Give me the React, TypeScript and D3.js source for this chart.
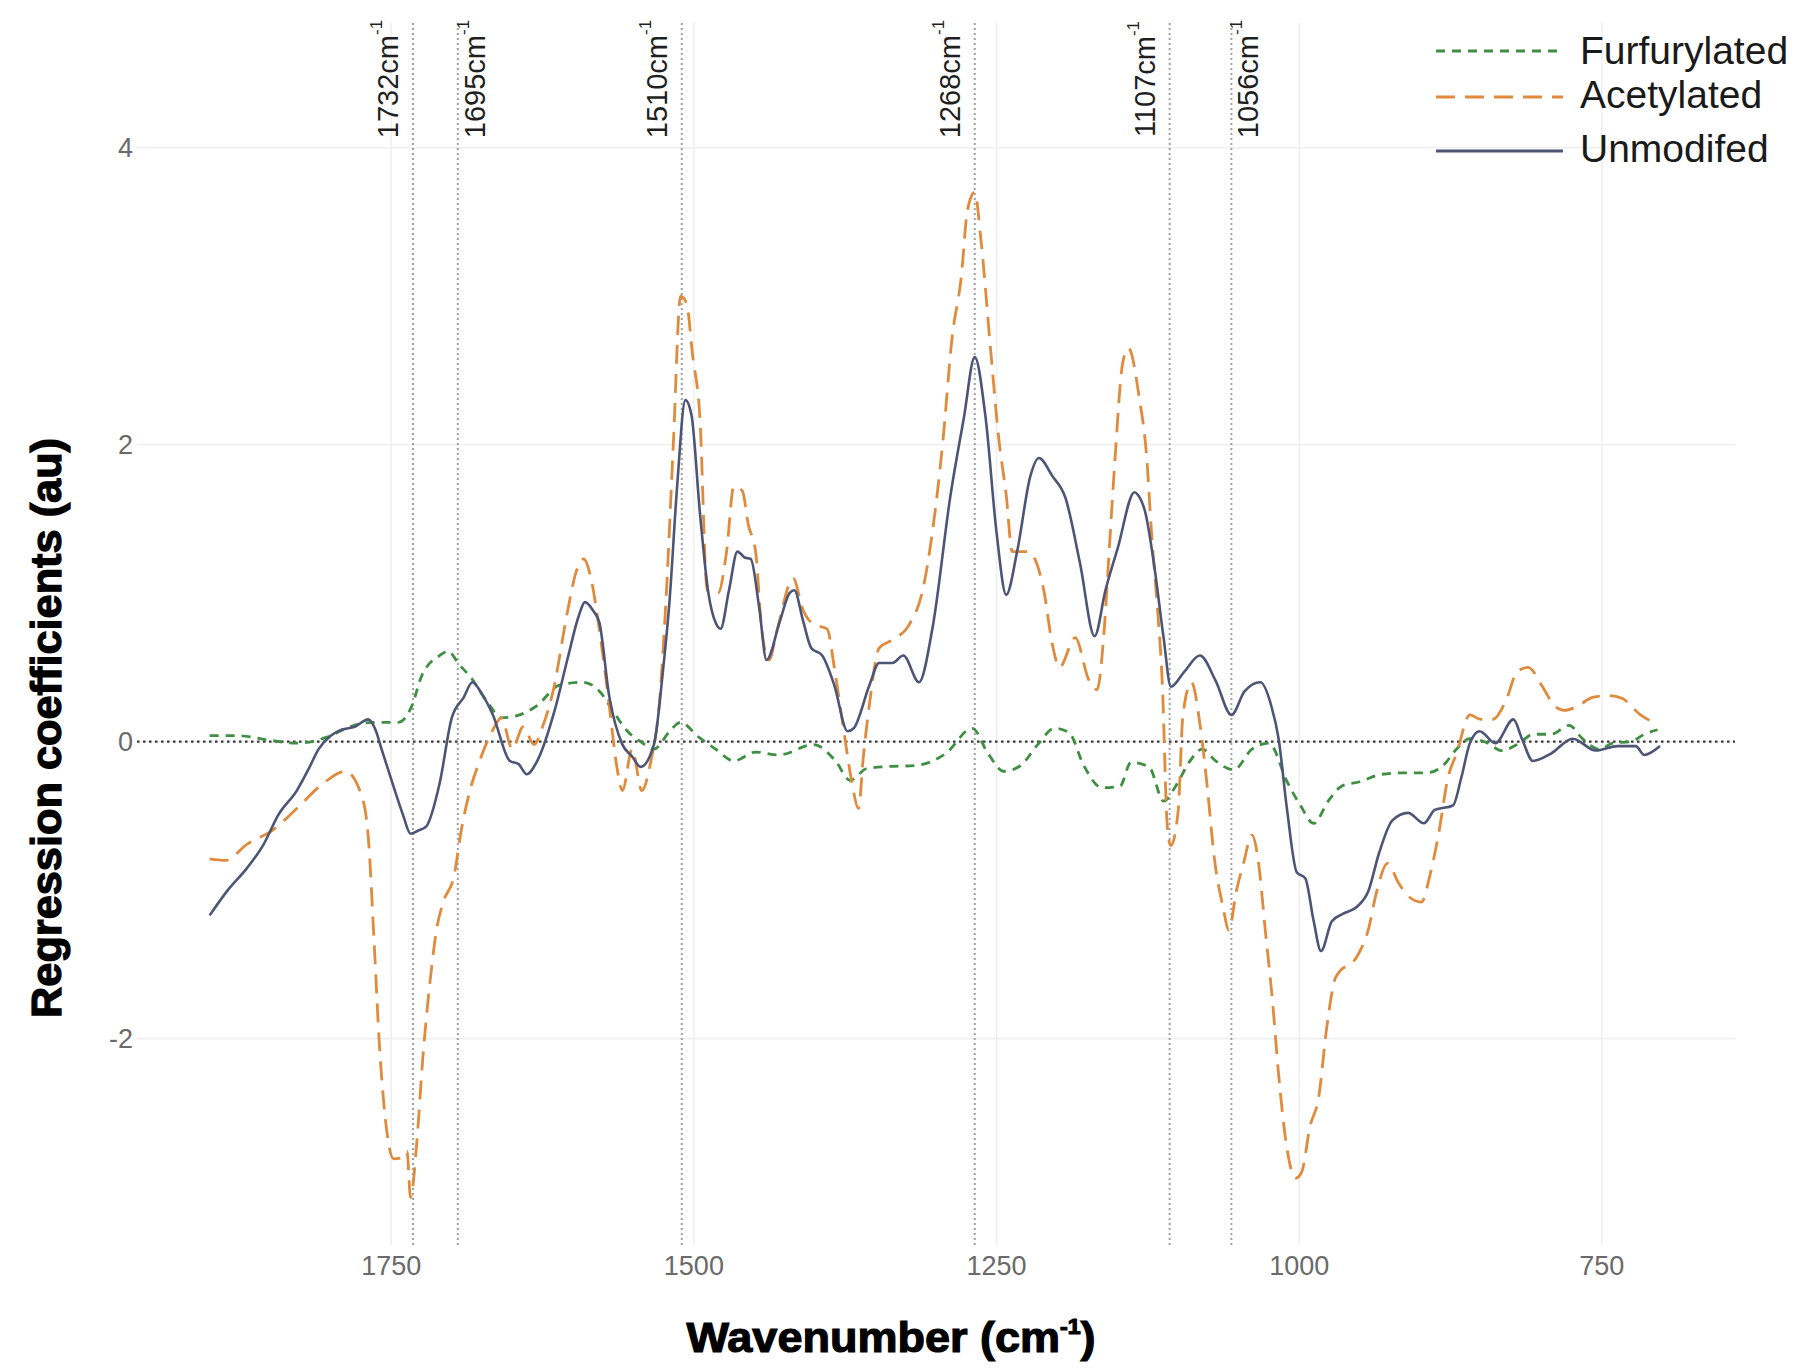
import React from "react";
import * as d3 from "d3";

// ---------- data ----------
const xTicks = [1750, 1500, 1250, 1000, 750];
const yTicks = [-2, 0, 2, 4];

const markerWavenumbers = [1732, 1695, 1510, 1268, 1107, 1056];
const markerSides = ["left", "right", "left", "left", "left", "right"];

const seriesNames = ["Furfurylated", "Acetylated", "Unmodifed"];

const furfX = [1900, 1876, 1851, 1828, 1803, 1784, 1766, 1744, 1733, 1725, 1710, 1703, 1694, 1685, 1670, 1659, 1644, 1630, 1611, 1592, 1578, 1567, 1556, 1544, 1533, 1519, 1511, 1496, 1482, 1467, 1449, 1430, 1401, 1383, 1371, 1357, 1345, 1316, 1292, 1270, 1257, 1244, 1230, 1216, 1202, 1190, 1178, 1163, 1148, 1139, 1124, 1112, 1102, 1091, 1080, 1069, 1054, 1039, 1025, 1010, 999, 988, 976, 965, 950, 932, 914, 895, 881, 870, 859, 844, 833, 818, 807, 792, 777, 766, 752, 741, 726, 715, 704];
const furfY = [0.04, 0.04, 0.01, -0.01, 0.03, 0.10, 0.13, 0.13, 0.24, 0.44, 0.58, 0.61, 0.52, 0.44, 0.26, 0.16, 0.18, 0.24, 0.38, 0.40, 0.34, 0.21, 0.08, 0.0, -0.05, 0.08, 0.13, 0.03, -0.05, -0.13, -0.07, -0.09, -0.02, -0.13, -0.26, -0.18, -0.17, -0.16, -0.08, 0.09, -0.08, -0.2, -0.16, -0.02, 0.09, 0.06, -0.16, -0.31, -0.30, -0.14, -0.17, -0.40, -0.30, -0.14, -0.05, -0.13, -0.19, -0.05, -0.01, -0.27, -0.43, -0.55, -0.40, -0.30, -0.27, -0.22, -0.21, -0.21, -0.16, -0.05, 0.02, -0.01, -0.06, -0.01, 0.05, 0.05, 0.11, 0.02, -0.05, -0.01, 0.0, 0.05, 0.08];

const acetX = [1900, 1887, 1869, 1847, 1828, 1806, 1788, 1775, 1769, 1764, 1760, 1755, 1748, 1740, 1737, 1734, 1729, 1724, 1718, 1712, 1707, 1698, 1692, 1685, 1677, 1666, 1659, 1650, 1641, 1632, 1625, 1616, 1605, 1597, 1591, 1585, 1578, 1570, 1564, 1559, 1551, 1543, 1536, 1528, 1523, 1517, 1511, 1506, 1501, 1495, 1489, 1480, 1473, 1467, 1460, 1455, 1449, 1444, 1438, 1431, 1418, 1410, 1401, 1390, 1384, 1377, 1370, 1364, 1360, 1355, 1347, 1335, 1322, 1311, 1303, 1294, 1287, 1279, 1274, 1268, 1263, 1255, 1248, 1242, 1237, 1224, 1211, 1204, 1198, 1185, 1174, 1167, 1161, 1157, 1152, 1146, 1141, 1132, 1126, 1122, 1117, 1113, 1109, 1106, 1100, 1096, 1089, 1082, 1076, 1070, 1063, 1058, 1052, 1046, 1039, 1034, 1028, 1022, 1017, 1011, 1003, 998, 991, 984, 977, 970, 951, 943, 936, 927, 918, 910, 899, 892, 885, 877, 870, 859, 850, 840, 829, 820, 811, 799, 790, 781, 770, 757, 744, 733, 718, 705];
const acetY = [-0.79, -0.80, -0.69, -0.59, -0.45, -0.28, -0.20, -0.35, -0.64, -1.37, -2.01, -2.53, -2.81, -2.80, -2.76, -3.07, -2.71, -2.14, -1.62, -1.24, -1.08, -0.90, -0.59, -0.33, -0.13, 0.08, 0.16, -0.05, 0.10, -0.02, 0.10, 0.35, 0.85, 1.15, 1.23, 1.10, 0.75, 0.25, -0.15, -0.33, -0.05, -0.33, -0.15, 0.31, 0.96, 2.0, 3.0, 2.95, 2.6, 2.18, 1.02, 1.0, 1.28, 1.72, 1.69, 1.46, 1.28, 0.76, 0.55, 0.76, 1.10, 0.89, 0.79, 0.76, 0.50, 0.12, -0.25, -0.45, -0.10, 0.25, 0.63, 0.69, 0.79, 1.02, 1.41, 2.05, 2.70, 3.14, 3.58, 3.70, 3.39, 2.65, 2.03, 1.66, 1.28, 1.28, 1.02, 0.66, 0.50, 0.70, 0.42, 0.35, 0.76, 1.28, 1.92, 2.54, 2.65, 2.31, 1.92, 1.41, 0.89, 0.38, -0.56, -0.70, -0.47, 0.18, 0.40, 0.12, -0.30, -0.79, -1.11, -1.27, -1.01, -0.82, -0.63, -0.79, -1.27, -1.75, -2.24, -2.69, -2.94, -2.90, -2.59, -2.40, -1.91, -1.59, -1.43, -1.27, -1.01, -0.82, -0.95, -1.04, -1.08, -0.90, -0.63, -0.24, -0.08, 0.18, 0.15, 0.15, 0.28, 0.47, 0.50, 0.37, 0.25, 0.21, 0.24, 0.30, 0.31, 0.29, 0.18, 0.12];

const unmodX = [1900, 1885, 1869, 1856, 1843, 1828, 1818, 1810, 1800, 1791, 1780, 1769, 1763, 1758, 1747, 1740, 1734, 1728, 1721, 1710, 1700, 1690, 1683, 1675, 1666, 1652, 1645, 1638, 1630, 1615, 1604, 1595, 1590, 1583, 1578, 1570, 1559, 1551, 1544, 1533, 1526, 1520, 1514, 1507, 1502, 1495, 1488, 1482, 1478, 1471, 1464, 1458, 1453, 1446, 1440, 1429, 1421, 1417, 1410, 1403, 1394, 1384, 1373, 1368, 1355, 1347, 1336, 1327, 1314, 1303, 1288, 1277, 1268, 1259, 1250, 1242, 1233, 1222, 1215, 1204, 1193, 1181, 1169, 1160, 1150, 1136, 1133, 1127, 1120, 1112, 1106, 1095, 1082, 1069, 1056, 1045, 1032, 1023, 1017, 1010, 1002, 995, 988, 982, 973, 964, 952, 943, 934, 923, 910, 897, 888, 873, 866, 859, 851, 838, 823, 816, 807, 792, 774, 755, 737, 722, 715, 702];
const unmodY = [-1.17, -1.0, -0.85, -0.70, -0.49, -0.33, -0.18, -0.05, 0.04, 0.08, 0.10, 0.15, 0.08, -0.05, -0.33, -0.50, -0.62, -0.60, -0.57, -0.28, 0.16, 0.30, 0.40, 0.32, 0.18, -0.13, -0.15, -0.22, -0.14, 0.21, 0.57, 0.85, 0.94, 0.88, 0.80, 0.31, -0.02, -0.10, -0.17, -0.02, 0.44, 0.96, 1.70, 2.30, 2.20, 1.54, 1.0, 0.80, 0.76, 1.02, 1.28, 1.24, 1.23, 0.90, 0.55, 0.81, 1.0, 1.02, 0.82, 0.63, 0.58, 0.38, 0.07, 0.09, 0.38, 0.53, 0.53, 0.58, 0.40, 0.76, 1.66, 2.18, 2.59, 2.18, 1.41, 0.99, 1.28, 1.79, 1.91, 1.79, 1.64, 1.20, 0.71, 1.02, 1.30, 1.68, 1.66, 1.54, 1.20, 0.70, 0.37, 0.47, 0.58, 0.41, 0.18, 0.34, 0.40, 0.24, 0.02, -0.46, -0.88, -0.92, -1.21, -1.41, -1.21, -1.16, -1.11, -1.01, -0.75, -0.53, -0.48, -0.55, -0.46, -0.43, -0.24, -0.01, 0.07, -0.01, 0.15, 0.02, -0.13, -0.08, 0.02, -0.06, -0.03, -0.03, -0.09, -0.03];

// ---------- styling ----------
const W = 1818;
const H = 1372;
const FONT = "'Liberation Sans', Arial, Helvetica, sans-serif";
const colors = ["#3f8f43", "#e08a3c", "#4d5577"];
const dashes = ["9,7", "19,10", null];

export default function App() {
  const x = d3.scaleLinear().domain([1960, 640]).range([137, 1735]);
  const y = d3.scaleLinear().domain([-3.39, 4.84]).range([1245, 23]);
  const [pl, pr] = x.range();
  const [pb, pt] = y.range();

  const line = d3
    .line<[number, number]>()
    .x((d) => x(d[0]))
    .y((d) => y(d[1]))
    .curve(d3.curveMonotoneX);

  const series = [
    furfX.map((v, i) => [v, furfY[i]] as [number, number]),
    acetX.map((v, i) => [v, acetY[i]] as [number, number]),
    unmodX.map((v, i) => [v, unmodY[i]] as [number, number]),
  ];

  const legendLineY = [51, 97, 151];
  const legendTextY = [64, 108, 162];

  return (
    <svg
      width={W}
      height={H}
      viewBox={`0 0 ${W} ${H}`}
      style={{ position: "absolute", left: 0, top: 0, background: "#fff" }}
      fontFamily={FONT}
    >
      <rect x={0} y={0} width={W} height={H} fill="#fff" />
      {/* grid */}
      {xTicks.map((t) => (
        <line key={"gx" + t} x1={x(t)} x2={x(t)} y1={pt} y2={pb} stroke="#efefef" strokeWidth={1.6} />
      ))}
      {yTicks.map((t) => (
        <line key={"gy" + t} x1={pl} x2={pr} y1={y(t)} y2={y(t)} stroke="#efefef" strokeWidth={1.6} />
      ))}

      {/* marker lines */}
      {markerWavenumbers.map((m) => (
        <line key={"m" + m} x1={x(m)} x2={x(m)} y1={pt} y2={pb} stroke="#a0a0a0" strokeWidth={2} strokeDasharray="2,3" />
      ))}

      {/* zero line */}
      <line x1={pl} x2={pr} y1={y(0)} y2={y(0)} stroke="#3a3a3a" strokeWidth={2.4} strokeDasharray="2.5,3.5" />

      {/* series */}
      {series.map((s, i) => (
        <path
          key={"s" + i}
          d={line(s) || ""}
          fill="none"
          stroke={colors[i]}
          strokeWidth={i === 2 ? 2.6 : 2.8}
          strokeDasharray={dashes[i] || undefined}
          strokeLinejoin="round"
        />
      ))}

      {/* marker labels */}
      {markerWavenumbers.map((m, i) => {
        const lx = x(m) + (markerSides[i] === "left" ? -25 : 17);
        return (
          <text
            key={"ml" + m}
            transform={`translate(${lx},79) rotate(-90)`}
            textAnchor="middle"
            dominantBaseline="central"
            fontSize={29}
            fill="#1f1f1f"
          >
            {m}cm
            <tspan fontSize={17} dy={-12}>-1</tspan>
          </text>
        );
      })}

      {/* x tick labels */}
      {xTicks.map((t) => (
        <text key={"xl" + t} x={x(t)} y={1275} textAnchor="middle" fontSize={27} fill="#6a6a6a">
          {t}
        </text>
      ))}
      {/* y tick labels */}
      {yTicks.map((t) => (
        <text key={"yl" + t} x={133} y={y(t)} dy="0.35em" textAnchor="end" fontSize={27} fill="#6a6a6a">
          {t}
        </text>
      ))}

      {/* axis titles */}
      <text
        x={891}
        y={1352}
        textAnchor="middle"
        fontSize={43}
        fontWeight="bold"
        fill="#000"
        stroke="#000"
        strokeWidth={1.2}
        textLength={409}
        lengthAdjust="spacingAndGlyphs"
      >
        Wavenumber (cm
        <tspan fontSize={22} dy={-18}>-1</tspan>
        <tspan dy={18}>)</tspan>
      </text>
      <text
        transform="translate(61,728) rotate(-90)"
        textAnchor="middle"
        fontSize={42}
        fontWeight="bold"
        fill="#000"
        stroke="#000"
        strokeWidth={1.2}
        textLength={580}
        lengthAdjust="spacingAndGlyphs"
      >
        Regression coefficients (au)
      </text>

      {/* legend */}
      {seriesNames.map((n, i) => (
        <g key={"lg" + n}>
          <line
            x1={1436}
            x2={1563}
            y1={legendLineY[i]}
            y2={legendLineY[i]}
            stroke={colors[i]}
            strokeWidth={2.8}
            strokeDasharray={dashes[i] || undefined}
          />
          <text x={1580} y={legendTextY[i]} fontSize={39} fill="#1a1a1a">
            {n}
          </text>
        </g>
      ))}
    </svg>
  );
}
